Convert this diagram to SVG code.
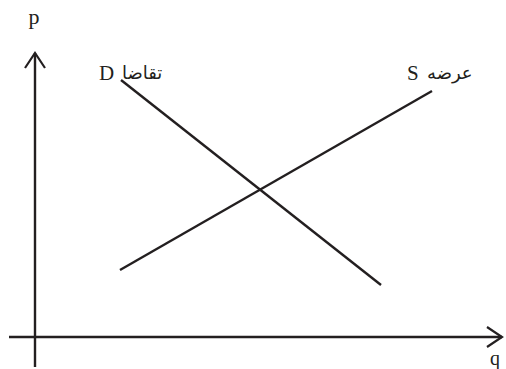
<svg xmlns="http://www.w3.org/2000/svg" width="506" height="369" viewBox="0 0 506 369">
<style>
.ln{stroke:#231f20;stroke-width:2.4;fill:none;stroke-linecap:butt}
.ah{stroke:#231f20;stroke-width:2.2;fill:none}
.t{font-family:"Liberation Serif","DejaVu Serif",serif;fill:#231f20}
.ar{font-family:"DejaVu Sans","Noto Sans",sans-serif;fill:#231f20}
</style>
<rect width="506" height="369" fill="#fff"/>
<g id="axes">
<line class="ln" x1="35" y1="367" x2="35" y2="53"/>
<polyline class="ah" points="25,68 35,53 45,68"/>
<line class="ln" x1="9" y1="337" x2="502" y2="337"/>
<polyline class="ah" points="487,327 502,337 487,347"/>
<text class="t" x="34" y="24" font-size="22" text-anchor="middle">p</text>
<text class="t" x="495" y="365" font-size="20" text-anchor="middle">q</text>
</g>
<g id="connectors">
<line id="demand-line" class="ln" x1="121" y1="80" x2="381" y2="285"/>
<line id="supply-line" class="ln" x1="120" y1="270" x2="432" y2="91"/>
</g>
<g id="demand">
<text class="t" x="99" y="80" font-size="21">D</text>
<text class="ar" x="122" y="79" font-size="18">تقاضا</text>
</g>
<g id="supply">
<text class="t" x="407" y="80" font-size="21">S</text>
<text class="ar" x="427" y="79" font-size="18">عرضه</text>
</g>
</svg>
